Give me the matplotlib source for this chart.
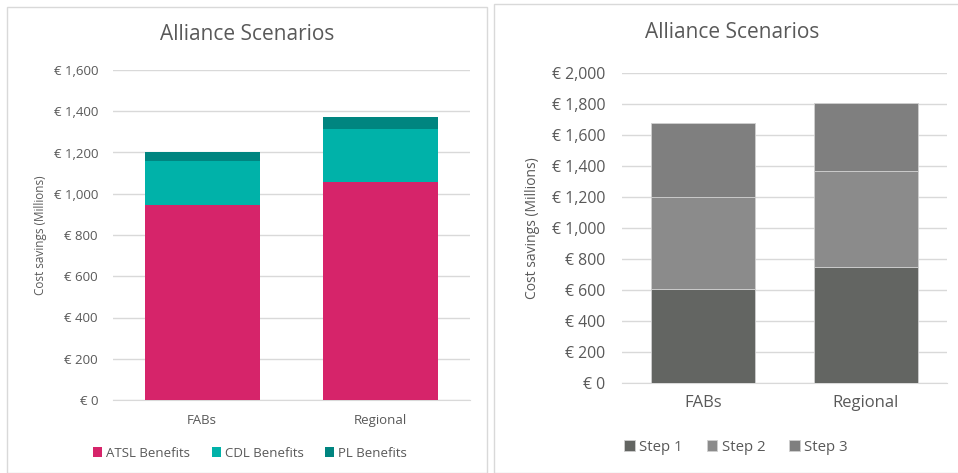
import matplotlib.pyplot as plt
from matplotlib.patches import Rectangle
from matplotlib.ticker import FuncFormatter

plt.rcParams['font.family'] = ['Open Sans', 'DejaVu Sans']

categories = ['FABs', 'Regional']

# left chart: benefits split
benefit_names = ['ATSL Benefits', 'CDL Benefits', 'PL Benefits']
atsl = [945, 1055]
cdl = [215, 260]
pl = [42, 55]
benefit_colors = ['#D6246A', '#00B2A9', '#008580']

# right chart: steps
step_names = ['Step 1', 'Step 2', 'Step 3']
step1 = [607, 745]
step2 = [594, 622]
step3 = [479, 440]
step_colors = ['#636562', '#8B8B8B', '#7F7F7F']

TXT = '#595959'
GRID = '#D9D9D9'
W, H = 958, 473


def euro(v, pos):
    return '€ {:,.0f}'.format(v)


def stacked(ax, series, colors, names, width, ymax, step, fs, edge=None):
    bottom = [0] * len(categories)
    handles = []
    for vals, c, n in zip(series, colors, names):
        b = ax.bar(range(len(categories)), vals, width, bottom=bottom, color=c,
                   label=n, edgecolor=edge if edge else c, linewidth=0.6 if edge else 0,
                   zorder=3)
        handles.append(b)
        bottom = [x + y for x, y in zip(bottom, vals)]
    ax.set_xlim(-0.5, 1.5)
    ax.set_ylim(0, ymax)
    ax.set_yticks(range(0, ymax + 1, step))
    ax.yaxis.set_major_formatter(FuncFormatter(euro))
    ax.set_xticks(range(len(categories)))
    ax.set_xticklabels(categories)
    ax.grid(axis='y', color=GRID, linewidth=1, zorder=0)
    for s in ['top', 'right', 'left']:
        ax.spines[s].set_visible(False)
    ax.spines['bottom'].set_color(GRID)
    ax.tick_params(axis='both', length=0, colors=TXT, labelsize=fs)
    ax.tick_params(axis='x', pad=10)
    return handles


fig = plt.figure(figsize=(W / 100, H / 100), dpi=100)

# panel frames
fig.patches.append(Rectangle((7 / W, 0), 480 / W, (H - 7) / H, transform=fig.transFigure,
                             fill=False, edgecolor=GRID, linewidth=1))
fig.patches.append(Rectangle((494 / W, 0), 470 / W, (H - 4) / H, transform=fig.transFigure,
                             fill=False, edgecolor=GRID, linewidth=1))

ax1 = fig.add_axes([113 / W, (H - 400) / H, 357 / W, 330 / H])
h1 = stacked(ax1, [atsl, cdl, pl], benefit_colors, benefit_names, 0.645, 1600, 200, 9.5)
ax1.tick_params(axis='y', pad=10.8)
ax1.set_ylabel('Cost savings (Millions)', color=TXT, fontsize=8.5)
ax1.yaxis.set_label_coords(-0.185, 0.5)

ax2 = fig.add_axes([622 / W, (H - 382.7) / H, 325 / W, 309.7 / H])
h2 = stacked(ax2, [step1, step2, step3], step_colors, step_names, 0.64, 2000, 200, 11.4,
             edge='#D0D0D0')
ax2.tick_params(axis='y', pad=12)
ax2.tick_params(axis='x', labelsize=12, pad=9)
ax2.set_ylabel('Cost savings (Millions)', color=TXT, fontsize=10)
ax2.yaxis.set_label_coords(-0.252, 0.5)

fig.text(247 / W, 1 - 35 / H, 'Alliance Scenarios', ha='center', va='center',
         fontsize=15, color=TXT)
fig.text(732 / W, 1 - 33 / H, 'Alliance Scenarios', ha='center', va='center',
         fontsize=15, color=TXT)

leg_kw = dict(ncol=3, frameon=False, labelcolor=TXT, handlelength=0.7,
              handleheight=0.7, handletextpad=0.3, columnspacing=1.6, loc='center')
fig.legend(handles=h1, labels=benefit_names, bbox_to_anchor=(250 / W, 1 - 453 / H),
           fontsize=9.5, **leg_kw)
fig.legend(handles=h2, labels=step_names, bbox_to_anchor=(736 / W, 1 - 447 / H),
           fontsize=10.8, **leg_kw)

fig.savefig('out.png', dpi=100)
